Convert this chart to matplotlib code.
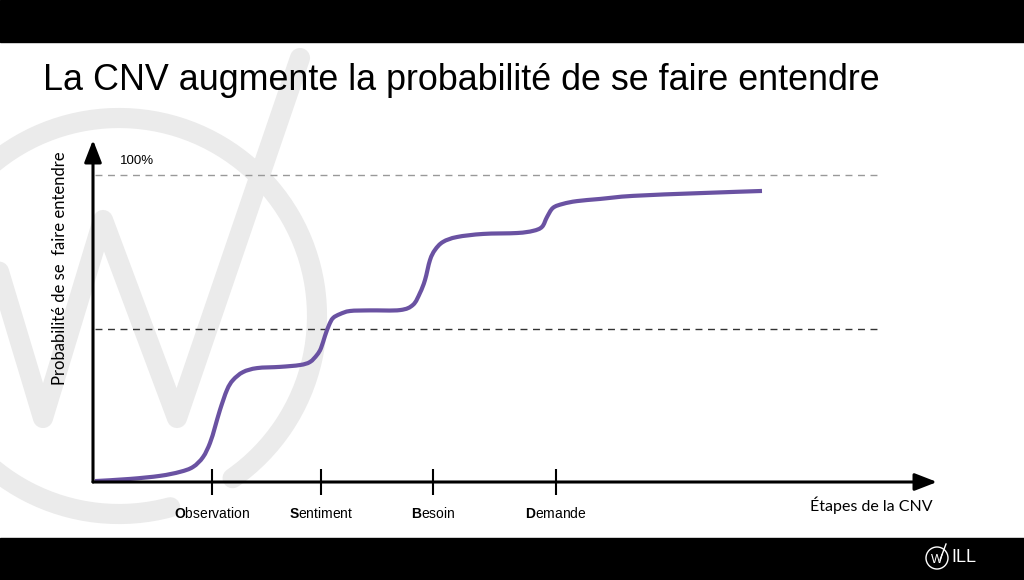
import matplotlib
matplotlib.use("Agg")
import matplotlib.pyplot as plt
import numpy as np
from matplotlib.patches import Rectangle, Circle, Arc, PathPatch
from matplotlib.path import Path

plt.rcParams["mathtext.fontset"] = "custom"
plt.rcParams["mathtext.rm"] = "Liberation Sans"
plt.rcParams["mathtext.bf"] = "Liberation Sans:bold"

# curve: x = distance along the axis, y = probability (%)
curve_x = [2, 37, 67, 87, 100, 110, 117, 122, 127, 134, 140, 150, 164, 187,
           207, 217, 224, 228, 232, 236, 240, 247, 257, 277, 307, 320, 327,
           332, 337, 342, 350, 364, 390, 424, 440, 449, 454, 460, 470, 484,
           507, 540, 607, 669]
curve_y = [0.3, 1.0, 2.0, 3.3, 4.9, 8.1, 12.7, 17.9, 23.5, 30.0, 33.2, 35.8,
           37.1, 37.5, 38.1, 39.1, 41.4, 43.6, 47.6, 51.1, 53.4, 54.7, 55.7,
           55.9, 56.0, 57.7, 61.6, 65.8, 72.3, 75.6, 78.2, 79.8, 80.8, 81.1,
           81.8, 83.1, 86.3, 89.3, 90.6, 91.5, 92.2, 93.2, 94.1, 94.8]

stages = ["Observation", "Sentiment", "Besoin", "Demande"]
stage_pos = [119, 228, 340, 463]
ref_levels = [100, 50]

title = "La CNV augmente la probabilité de se faire entendre"
ylabel = "Probabilité de se  faire entendre"
xlabel = "Étapes de la CNV"

# watermark logo (page pixels)
wm_w_x = [-12, 43, 103, 177, 300]
wm_w_y = [235, 418, 220, 418, 58]


def smooth_path(xs, ys):
    # catmull-rom through the read points, drawn as bezier segments
    p = np.column_stack([xs, ys]).astype(float)
    verts = [p[0]]
    codes = [Path.MOVETO]
    for i in range(len(p) - 1):
        p0 = p[max(i - 1, 0)]
        p1 = p[i]
        p2 = p[i + 1]
        p3 = p[min(i + 2, len(p) - 1)]
        verts += [p1 + (p2 - p0) / 6, p2 - (p3 - p1) / 6, p2]
        codes += [Path.CURVE4] * 3
    return Path(verts, codes)


fig = plt.figure(figsize=(10.24, 5.8), dpi=100)

bg = fig.add_axes([0, 0, 1, 1])
bg.set_xlim(0, 1024)
bg.set_ylim(580, 0)
bg.axis("off")
bg.add_patch(Rectangle((0, 0), 1024, 42, color="black", zorder=5))
bg.add_patch(Rectangle((0, 538), 1024, 42, color="black", zorder=5))
wm = "#ebebeb"
bg.add_patch(Arc((119, 316), 396, 396, theta1=75, theta2=415, lw=14.5,
                 color=wm, capstyle="round"))
bg.plot(wm_w_x, wm_w_y, color=wm, lw=14.5, solid_capstyle="round",
        solid_joinstyle="round")
bg.text(43, 80, title, fontsize=25.8, family="Liberation Sans", va="center",
        ha="left", color="black")

# WILL logo, bottom right
bg.add_patch(Circle((937, 558), 11, fill=False, ec="white", lw=1, zorder=6))
bg.text(937, 560, "W", color="white", fontsize=9, ha="center", va="center",
        family="Liberation Sans", zorder=6)
bg.plot([940, 946], [560, 544], color="white", lw=1, zorder=6)
bg.text(951, 558, "ILL", color="white", fontsize=13, ha="left", va="center",
        family="Liberation Sans", zorder=6)

ax = fig.add_axes([93 / 1024, (580 - 482) / 580, 844 / 1024, (482 - 140) / 580])
ax.set_xlim(0, 844)
ax.set_ylim(0, 342 / 3.07)
ax.patch.set_alpha(0)
for s in ax.spines.values():
    s.set_visible(False)

ax.hlines(ref_levels[0], 2, 785, colors="#999999", lw=1, linestyles=(0, (5, 4)))
ax.hlines(ref_levels[1], 2, 785, colors="#333333", lw=1, linestyles=(0, (5, 4)))

ax.add_patch(PathPatch(smooth_path(curve_x, curve_y), fill=False,
                       ec="#6a52a2", lw=3, capstyle="butt", joinstyle="round",
                       zorder=3))

arrow = dict(arrowstyle="-|>,head_length=0.9,head_width=0.35", lw=2.2,
             color="black", shrinkA=0, shrinkB=0, mutation_scale=15)
ax.annotate("", xy=(0, 1), xytext=(0, 0), xycoords="axes fraction", arrowprops=arrow)
ax.annotate("", xy=(1, 0), xytext=(0, 0), xycoords="axes fraction", arrowprops=arrow)

ax.set_yticks([])
ax.set_xticks(stage_pos)
ax.set_xticklabels([r"$\mathbf{%s}$%s" % (s[0], s[1:]) for s in stages],
                   fontsize=10, family="Liberation Sans")
ax.tick_params(axis="x", direction="inout", length=19, width=1.5, pad=8)

ax.text(27, 104.5, "100%", fontsize=9.5, family="Liberation Sans",
        va="center", ha="left")
ax.text(840, -7.5, xlabel, fontsize=11.5, family="Lato", ha="right", va="center")
fig.text(60 / 1024, 1 - 268 / 580, ylabel, rotation=90, fontsize=12,
         family="Lato", ha="center", va="center")

fig.savefig("out.png", dpi=100)
